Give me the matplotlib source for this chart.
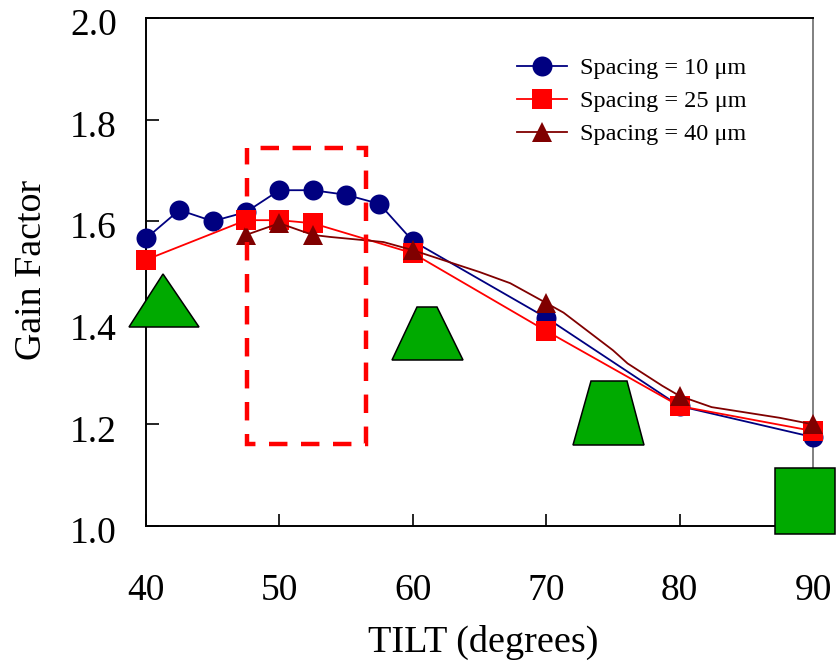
import matplotlib
matplotlib.use("Agg")
import matplotlib.pyplot as plt
from matplotlib.patches import Polygon, Rectangle
from matplotlib.transforms import Affine2D, ScaledTranslation

W, H = 837, 664
plt.rcParams['font.family'] = ['Liberation Serif', 'DejaVu Serif']

x_blue = [40, 42.5, 45, 47.5, 50, 52.5, 55, 57.5, 60, 70, 80, 90]
y_blue = [1.566, 1.622, 1.600, 1.618, 1.661, 1.661, 1.652, 1.634, 1.561, 1.410, 1.236, 1.175]
x_red = [40, 47.5, 50, 52.5, 60, 70, 80, 90]
y_red = [1.524, 1.602, 1.602, 1.596, 1.537, 1.384, 1.236, 1.187]
x_dark_line = [47.5, 50, 52.5, 53.8, 57.8, 60, 65, 67.3, 70, 71.3, 75, 76.1, 78.7, 80, 82.4, 87.5, 90]
y_dark_line = [1.573, 1.596, 1.573, 1.569, 1.559, 1.543, 1.500, 1.478, 1.439, 1.420, 1.346, 1.320, 1.276, 1.256, 1.234, 1.213, 1.200]
x_dark_marks = [47.5, 50, 52.5, 60, 70, 80, 90]
y_dark_marks = [1.573, 1.596, 1.573, 1.543, 1.439, 1.256, 1.200]
x_ticks = [40, 50, 60, 70, 80, 90]
y_ticks = [1.0, 1.2, 1.4, 1.6, 1.8, 2.0]
labels = ['Spacing = 10 μm', 'Spacing = 25 μm', 'Spacing = 40 μm']
NAVY, RED, DARK, GREEN = '#000080', '#FF0000', '#800000', '#00AA00'

fig = plt.figure(figsize=(W / 100, H / 100), dpi=100)
L, R, T, B = 146, 813, 18, 526
ax = fig.add_axes([L / W, 1 - B / H, (R - L) / W, (B - T) / H])
ax.set_xlim(40, 90)
ax.set_ylim(1.0, 2.0)

lw = 1.3
ms = 14.4
ax.plot(x_blue, y_blue, '-o', color=NAVY, lw=lw, ms=ms, mew=0, clip_on=False, zorder=3, label=labels[0])
ax.plot(x_red, y_red, '-s', color=RED, lw=lw, ms=ms, mew=0, clip_on=False, zorder=4, label=labels[1])
ax.plot(x_dark_line, y_dark_line, '-', color=DARK, lw=lw, clip_on=False, zorder=5)
ax.plot(x_dark_marks, y_dark_marks, '^', color=DARK, ms=ms, mew=0, clip_on=False, zorder=5)
dark_handle = plt.Line2D([], [], color=DARK, lw=lw, marker='^', ms=ms, mew=0)

h = ax.get_legend_handles_labels()[0] + [dark_handle]
leg = ax.legend(h, labels, loc='upper left', bbox_to_anchor=(517 / W, 1 - 57 / H),
                bbox_transform=fig.transFigure, frameon=False, fontsize=17.5,
                borderpad=0, borderaxespad=0, handlelength=2.06, handletextpad=0.52,
                labelspacing=0.46, numpoints=1)

ax.set_xticks(x_ticks)
ax.set_yticks(y_ticks)
ax.set_xticklabels([str(v) for v in x_ticks])
ax.set_yticklabels([f'{v:.1f}' for v in y_ticks])
ax.tick_params(direction='in', length=9, width=1.2, labelsize=27, color='black')
ax.tick_params(axis='x', pad=34.5)
ax.tick_params(axis='y', pad=21)
shift = ScaledTranslation(0, -4 / 100, fig.dpi_scale_trans)
for t in ax.get_yticklabels():
    t.set_transform(t.get_transform() + shift)
for s in ax.spines.values():
    s.set_linewidth(1.4)
ax.spines['right'].set_color('#808080')

fig.text(483 / W, 1 - 642 / H, 'TILT (degrees)', fontsize=27.5, ha='center', va='center')
fig.text(32 / W, 1 - 270 / H, 'Gain Factor', fontsize=27.3, rotation=90, ha='center', va='center')

# annotation shapes placed in figure pixels (y measured from the top)
px = Affine2D().scale(1, -1).translate(0, H)
shapes = [
    [(129, 327), (199, 327), (163, 274)],
    [(392, 360), (463, 360), (437, 307), (417, 307)],
    [(573, 445), (644, 445), (627, 381), (591, 381)],
    [(775, 534), (835, 534), (835, 468), (775, 468)],
]
for pts in shapes:
    fig.add_artist(Polygon(pts, closed=True, fc=GREEN, ec='black', lw=1.1, transform=px, zorder=6))
fig.add_artist(Rectangle((247, 148), 118.5, 296, fill=False, ec=RED, lw=3.2,
                         ls=(4.15, (4.15, 3.05)), transform=px, zorder=6))

fig.savefig('out.png', dpi=100)
